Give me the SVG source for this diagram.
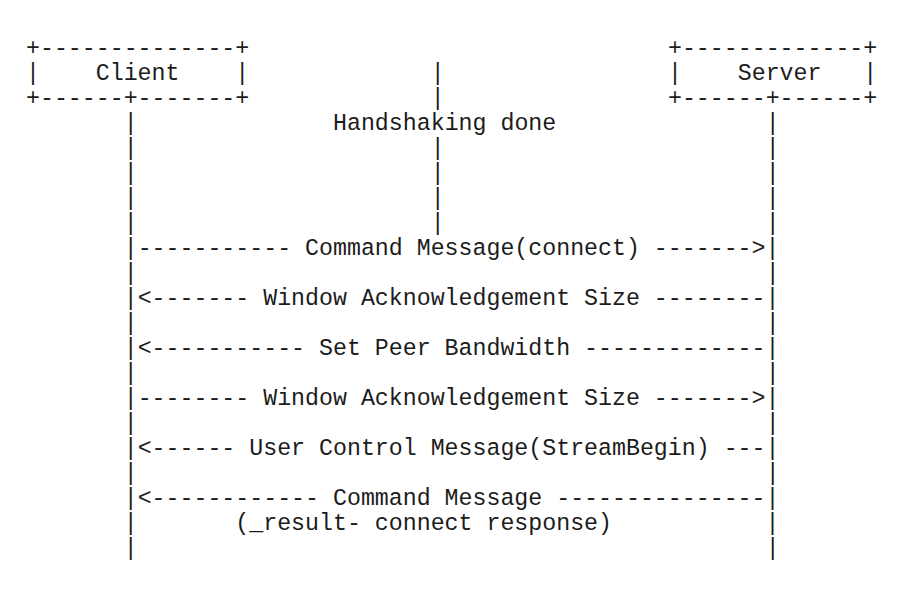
<svg xmlns="http://www.w3.org/2000/svg" width="914" height="590" viewBox="0 0 914 590">
<style>
text{font-family:"Liberation Mono","Courier New",monospace;font-size:23.26px;fill:#1c1c1c;white-space:pre}
</style>
<rect width="914" height="590" fill="#ffffff"/>
<g id="client">
<text x="26" y="55" xml:space="preserve">+--------------+</text>
<text x="26" y="80" xml:space="preserve">|    Client    |</text>
<text x="26" y="105" xml:space="preserve">+------+-------+</text>
</g>
<g id="server">
<text x="667.98" y="55" xml:space="preserve">+-------------+</text>
<text x="667.98" y="80" xml:space="preserve">|    Server   |</text>
<text x="667.98" y="105" xml:space="preserve">+------+------+</text>
</g>
<g id="handshake">
<text x="430.72" y="80">|</text>
<text x="430.72" y="105">|</text>
<text x="333.03" y="130" xml:space="preserve">Handshaking done</text>
<text x="430.72" y="155">|</text>
<text x="430.72" y="180">|</text>
<text x="430.72" y="205">|</text>
<text x="430.72" y="230">|</text>
</g>
<g id="lifelines">
<text x="123.69" y="130">|</text><text x="765.67" y="130">|</text>
<text x="123.69" y="155">|</text><text x="765.67" y="155">|</text>
<text x="123.69" y="180">|</text><text x="765.67" y="180">|</text>
<text x="123.69" y="205">|</text><text x="765.67" y="205">|</text>
<text x="123.69" y="230">|</text><text x="765.67" y="230">|</text>
<text x="123.69" y="280">|</text><text x="765.67" y="280">|</text>
<text x="123.69" y="330">|</text><text x="765.67" y="330">|</text>
<text x="123.69" y="380">|</text><text x="765.67" y="380">|</text>
<text x="123.69" y="430">|</text><text x="765.67" y="430">|</text>
<text x="123.69" y="480">|</text><text x="765.67" y="480">|</text>
<text x="123.69" y="555">|</text><text x="765.67" y="555">|</text>
</g>
<g id="connectors">
<text x="123.69" y="255" xml:space="preserve">|----------- Command Message(connect) -------&gt;|</text>
<text x="123.69" y="305" xml:space="preserve">|&lt;------- Window Acknowledgement Size --------|</text>
<text x="123.69" y="355" xml:space="preserve">|&lt;----------- Set Peer Bandwidth -------------|</text>
<text x="123.69" y="405" xml:space="preserve">|-------- Window Acknowledgement Size -------&gt;|</text>
<text x="123.69" y="455" xml:space="preserve">|&lt;------ User Control Message(StreamBegin) ---|</text>
<text x="123.69" y="505" xml:space="preserve">|&lt;------------ Command Message ---------------|</text>
<text x="123.69" y="530" xml:space="preserve">|       (_result- connect response)           |</text>
</g>
</svg>
